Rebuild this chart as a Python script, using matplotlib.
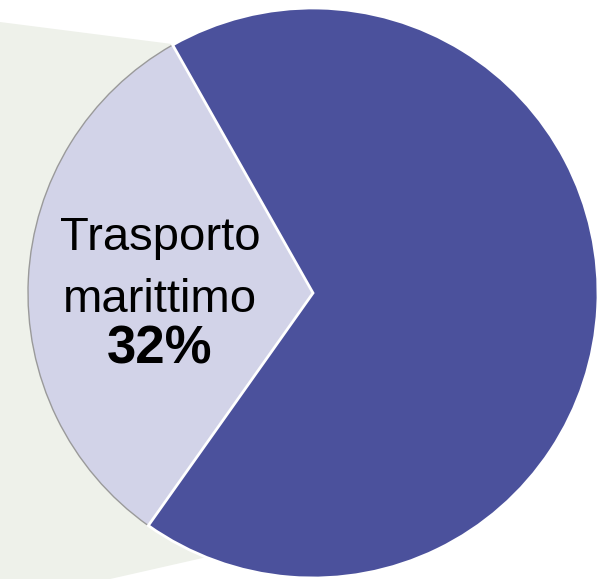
import matplotlib
matplotlib.use('Agg')
import matplotlib.pyplot as plt
from matplotlib.patches import Polygon

# Data
labels = ['Trasporto\nmarittimo', 'Altro']
shares = [32, 68]
colors = ['#d2d3e8', '#4b519c']

W, H = 605, 579

fig = plt.figure(figsize=(W / 100, H / 100), dpi=100)
ax = fig.add_axes([0, 0, 1, 1])

# callout background on the left
bg = Polygon([(0, H - 22), (313, H - 62), (313, H - 533), (0, H - 604)],
             closed=True, facecolor='#eef1ea', edgecolor='none', zorder=0)
ax.add_patch(bg)

cx, cy, r = 313, H - 293, 285
wedges, _ = ax.pie(shares, colors=colors, startangle=119.5, counterclock=True,
                   center=(cx, cy), radius=r, frame=True)
wedges[0].set_edgecolor('#9a9a9a')
wedges[0].set_linewidth(1.0)
wedges[1].set_edgecolor('white')
wedges[1].set_linewidth(2.0)
for w in wedges:
    w.set_zorder(2)

# label of the small slice
ax.text(160, H - 250, 'Trasporto', ha='center', va='baseline',
        fontsize=34, family='Liberation Sans', color='black', zorder=3)
ax.text(160, H - 312, 'marittimo', ha='center', va='baseline',
        fontsize=34, family='Liberation Sans', color='black', zorder=3)
ax.text(160, H - 363, f'{shares[0]}%', ha='center', va='baseline',
        fontsize=38, fontweight='bold', family='Liberation Sans', color='black', zorder=3)

ax.set_xlim(0, W)
ax.set_ylim(0, H)
ax.set_aspect('auto')
ax.axis('off')

fig.savefig('out.png', dpi=100, facecolor='white')
